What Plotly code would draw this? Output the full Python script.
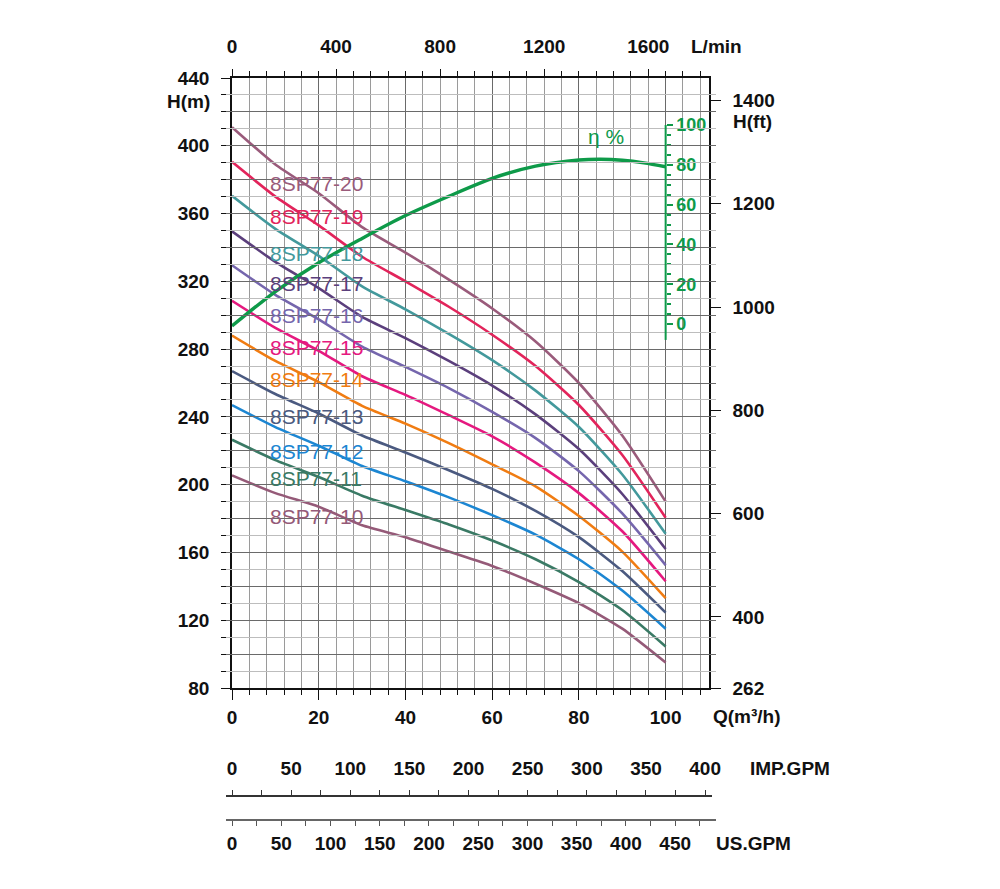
import plotly.graph_objects as go

# ---------------- data ----------------
Q = [0, 10, 20, 30, 40, 50, 60, 70, 80, 90, 100]

models = ["8SP77-20", "8SP77-19", "8SP77-18", "8SP77-17", "8SP77-16", "8SP77-15",
          "8SP77-14", "8SP77-13", "8SP77-12", "8SP77-11", "8SP77-10"]

H_20 = [411, 389, 372, 352, 337, 321, 304, 284.5, 260, 229, 190]
H_19 = [390.5, 370, 353, 334.5, 320, 305, 288.5, 270, 247, 217.5, 180.5]
H_18 = [370.5, 351, 335, 317, 303.5, 289, 273.5, 255.5, 234, 206, 171]
H_17 = [349.5, 331.5, 316, 299, 286.5, 273, 258.5, 241.5, 221, 194.5, 162]
H_16 = [329.5, 312, 297.5, 281.5, 269.5, 257, 243, 227.5, 208, 183, 152.5]
H_15 = [308.5, 292.5, 279, 264, 253, 241, 228.5, 213, 195, 172.5, 143]
H_14 = [288, 273, 260.5, 246.5, 236, 224.5, 212, 199, 181.5, 160.5, 133]
H_13 = [267, 253.5, 242, 229, 219, 208.5, 197.5, 184.5, 169, 149, 124.5]
H_12 = [247, 234, 223, 211, 202, 192.5, 182, 170.5, 156, 137.5, 115]
H_11 = [226.5, 214.5, 204.5, 193.5, 185, 176.5, 167, 156, 142.5, 126, 104.5]
H_10 = [205.5, 195, 187, 176, 169, 160.5, 152, 141.5, 130, 115, 95]
heads = [H_20, H_19, H_18, H_17, H_16, H_15, H_14, H_13, H_12, H_11, H_10]

colors = ["#9a5b7b", "#e2245b", "#43999c", "#5b3f7c", "#7566ad", "#e5197f",
          "#f07c12", "#4b5a80", "#1c86d2", "#3a7a65", "#955a78"]

# label positions (H in m) of the model names
label_H = [377.7, 358.0, 336.7, 318.6, 299.8, 281.2, 262.1, 240.5, 219.5, 203.8, 181.5]

eff_Q = [0, 10, 20, 30, 40, 50, 60, 70, 80, 85, 90, 95, 100]
eff = [-1, 16.3, 30.8, 43, 54.5, 64.2, 73.2, 79.3, 82.4, 82.8, 82.3, 81, 79]

Q_ticks = [0, 20, 40, 60, 80, 100]
H_ticks = [80, 120, 160, 200, 240, 280, 320, 360, 400, 440]
ft_ticks = [400, 600, 800, 1000, 1200, 1400]
eff_ticks = [0, 20, 40, 60, 80, 100]
lmin_ticks = [0, 400, 800, 1200, 1600]
imp_ticks = [0, 50, 100, 150, 200, 250, 300, 350, 400]
us_ticks = [0, 50, 100, 150, 200, 250, 300, 350, 400, 450]

# ---------------- geometry ----------------
W, HH = 1000, 889
ML, MR, MT, MB = 200, 270, 78, 29
PW = W - ML - MR
PH = HH - MT - MB
def px(x):
    return (x - ML) / PW
def py(y):
    return (HH - MB - y) / PH

X_L, X_R = 232, 709
Y_B, Y_T = 688, 78
Q_MAX = 110
H_MIN, H_MAX = 80, 440
PPQ = (X_R - X_L) / Q_MAX          # pixels per m3/h
M2FT = 3.28084
LMIN = 1000 / 60
IMP = 1000 / 4.54609 / 60
USG = 1000 / 3.785411784 / 60
EFF0_Y, EFF_PPU = 324, 1.99       # pixel of eta=0 and pixels per %

FONT = "Arial, Liberation Sans, sans-serif"
BLACK = "#111111"
GREEN = "#0e9a49"
tickfont = dict(family=FONT, size=19, color=BLACK, weight="bold")

fig = go.Figure()

for name, h, c in zip(models, heads, colors):
    fig.add_trace(go.Scatter(x=Q, y=h, mode="lines", name=name,
                             line=dict(color=c, width=2.6, shape="spline", smoothing=0.6),
                             showlegend=False, hoverinfo="x+y+name"))

fig.add_trace(go.Scatter(x=eff_Q, y=eff, mode="lines", yaxis="y3",
                         line=dict(color=GREEN, width=3.4, shape="spline", smoothing=0.8),
                         showlegend=False, name="η %"))

# dummy traces so that the extra axes are drawn
for xa, ya in [("x2", "y"), ("x", "y2"), ("x3", "y"), ("x4", "y")]:
    fig.add_trace(go.Scatter(x=[None], y=[None], xaxis=xa, yaxis=ya,
                             showlegend=False, hoverinfo="skip"))

x_dom = [px(X_L), px(X_R)]
y_dom = [py(Y_B), 1]

grid_dark = "#6a6a6a"
grid_light = "#bdbdbd"

fig.update_layout(
    width=W, height=HH,
    margin=dict(l=ML, r=MR, t=MT, b=MB, pad=0),
    paper_bgcolor="white", plot_bgcolor="rgba(0,0,0,0)",
    font=dict(family=FONT, color=BLACK),
    xaxis=dict(domain=x_dom, range=[0, Q_MAX], anchor="y",
               tickvals=Q_ticks, ticks="outside", ticklen=10, tickcolor=BLACK,
               tickfont=tickfont, ticklabelstandoff=1,
               showgrid=True, gridcolor=grid_dark, gridwidth=1,
               showline=True, linecolor=BLACK, linewidth=1.5, zeroline=False,
               minor=dict(dtick=4, tick0=0, ticks="outside", ticklen=5, tickcolor=BLACK,
                          showgrid=True, gridcolor="#9a9a9a", gridwidth=1)),
    xaxis2=dict(overlaying="x", side="top", anchor="y", range=[0, Q_MAX * LMIN],
                tickvals=lmin_ticks, ticks="outside", ticklen=7, tickcolor=BLACK,
                tickfont=tickfont, ticklabelstandoff=9,
                showgrid=False, zeroline=False, showline=True, linecolor=BLACK, linewidth=1.5,
                minor=dict(dtick=4 * LMIN, tick0=0, ticks="outside", ticklen=5, tickcolor=BLACK)),
    xaxis3=dict(domain=[px(226), px(712)], anchor="free", position=py(796), side="top",
                range=[(226 - X_L) / (PPQ / IMP), (712 - X_L) / (PPQ / IMP)],
                tickvals=imp_ticks, ticks="outside", ticklen=5, tickcolor="#333333",
                tickfont=tickfont, ticklabelstandoff=7,
                showgrid=False, zeroline=False, showline=True, linecolor="#333333", linewidth=2,
                minor=dict(dtick=25, tick0=0, ticks="outside", ticklen=5, tickcolor="#333333")),
    xaxis4=dict(domain=[px(226), px(716)], anchor="free", position=py(820), side="bottom",
                range=[(226 - X_L) / (PPQ / USG), (716 - X_L) / (PPQ / USG)],
                tickvals=us_ticks, ticks="outside", ticklen=5, tickcolor="#555555",
                tickfont=tickfont, ticklabelstandoff=1,
                showgrid=False, zeroline=False, showline=True, linecolor="#666666", linewidth=1.5,
                minor=dict(dtick=25, tick0=0, ticks="outside", ticklen=5, tickcolor="#555555")),
    yaxis=dict(domain=y_dom, range=[H_MIN, H_MAX], anchor="x",
               tickvals=list(range(80, 441, 20)),
               ticktext=[str(v) if v in H_ticks else "" for v in range(80, 441, 20)],
               ticks="outside", ticklen=9, tickcolor=BLACK,
               tickfont=tickfont, ticklabelstandoff=8,
               showgrid=True, gridcolor=grid_dark, gridwidth=1,
               showline=True, linecolor=BLACK, linewidth=1.5, zeroline=False,
               minor=dict(dtick=10, tick0=80, ticks="outside", ticklen=9, tickcolor=BLACK,
                          showgrid=True, gridcolor=grid_light, gridwidth=1)),
    yaxis2=dict(overlaying="y", side="right", anchor="x",
                range=[H_MIN * M2FT, H_MAX * M2FT],
                tickvals=[H_MIN * M2FT] + ft_ticks,
                ticktext=[str(int(H_MIN * M2FT))] + [str(v) for v in ft_ticks],
                ticks="outside", ticklen=10, tickcolor=BLACK,
                tickfont=tickfont, ticklabelstandoff=8,
                showgrid=False, zeroline=False,
                showline=True, linecolor=BLACK, linewidth=1.5),
    yaxis3=dict(overlaying="y", side="right", anchor="free",
                position=px(X_L + 100 * PPQ),
                range=[(EFF0_Y - Y_B) / EFF_PPU, (EFF0_Y - Y_T) / EFF_PPU],
                tickvals=eff_ticks, ticks="outside", ticklen=6, tickcolor=GREEN,
                tickwidth=1.5,
                tickfont=dict(family=FONT, size=18, color=GREEN, weight="bold"),
                ticklabelstandoff=0,
                showgrid=False, zeroline=False, showline=False,
                minor=dict(tickvals=[v for v in range(5, 100, 5) if v % 20 != 0],
                           ticks="outside", ticklen=4, tickcolor=GREEN, tickwidth=1.5)),
)

# efficiency axis line (limited span)
fig.add_shape(type="line", xref="x", yref="y3", x0=100, x1=100, y0=-8, y1=100,
              line=dict(color=GREEN, width=2))

# model labels
for name, c, hl in zip(models, colors, label_H):
    fig.add_annotation(x=8.2, y=hl, xref="x", yref="y", text=name, showarrow=False,
                       xanchor="left", yanchor="middle",
                       font=dict(family=FONT, size=21, color=c))

# axis titles
titles = [
    ("H(m)", 212, 101, "right", BLACK),
    ("L/min", 716, 47, "center", BLACK),
    ("H(ft)", 752, 122, "center", BLACK),
    ("Q(m³/h)", 747, 716, "center", BLACK),
    ("IMP.GPM", 790, 768, "center", BLACK),
    ("US.GPM", 753, 843, "center", BLACK),
]
for t, x, y, anc, col in titles:
    fig.add_annotation(x=px(x), y=py(y), xref="paper", yref="paper", text=t,
                       showarrow=False, xanchor=anc, yanchor="middle",
                       font=dict(family=FONT, size=19, color=col, weight="bold"))

fig.add_annotation(x=px(606), y=py(136), xref="paper", yref="paper", text="η %",
                   showarrow=False, xanchor="center", yanchor="middle",
                   font=dict(family=FONT, size=21, color=GREEN))

fig.write_html("out.html")
